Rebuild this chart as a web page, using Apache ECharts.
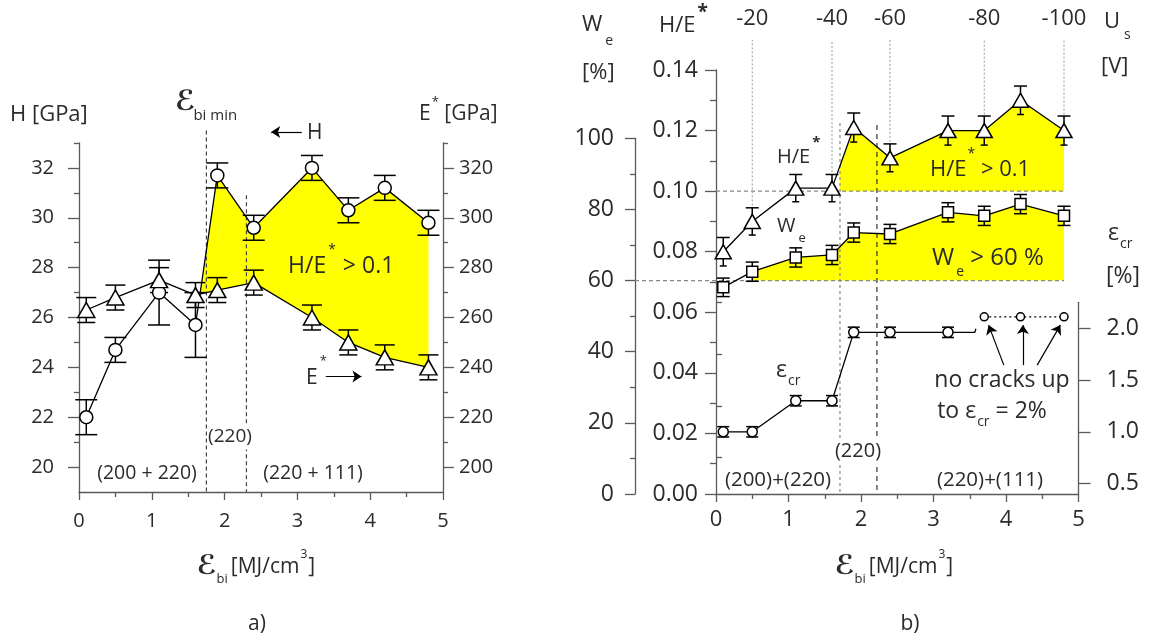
<!DOCTYPE html>
<html><head><meta charset="utf-8">
<script src="https://cdn.jsdelivr.net/npm/echarts@6/dist/echarts.min.js"></script>
<style>html,body{margin:0;padding:0;background:#fff}#c{width:1154px;height:643px}</style>
</head><body><div id="c"></div>
<script>
// ---------------- DATA ----------------
const xVals = [0.1, 0.5, 1.1, 1.6, 1.9, 2.4, 3.2, 3.7, 4.2, 4.8];
// panel a
const hardness = [22.0, 24.7, 27.0, 25.7, 31.7, 29.6, 32.0, 30.3, 31.2, 29.8];
const hardnessErr = [0.7, 0.5, 1.3, 1.3, 0.5, 0.5, 0.5, 0.5, 0.5, 0.5];
const modulus = [263, 268, 275, 269, 271, 274, 260, 250, 244, 240];
const modulusErr = [5, 5, 5, 5, 5, 5, 5, 5, 5, 5];
// panel b
const ratioHE = [0.080, 0.090, 0.101, 0.101, 0.121, 0.111, 0.120, 0.120, 0.130, 0.120];
const ratioHEErr = [0.0047, 0.0045, 0.0045, 0.0045, 0.0048, 0.0046, 0.0048, 0.0048, 0.0047, 0.0048];
const elasticRecovery = [58.1, 62.5, 66.5, 67.2, 73.5, 73.1, 79.2, 78.2, 81.5, 78.2];
const elasticRecoveryErr = [2.6, 2.7, 2.7, 2.7, 2.7, 2.7, 2.7, 2.7, 2.7, 2.7];
const crackX = [0.1, 0.5, 1.1, 1.6, 1.9, 2.4, 3.2];
const crackStrain = [1.0, 1.0, 1.3, 1.3, 1.96, 1.96, 1.96];
const crackErr = [0.05, 0.05, 0.05, 0.05, 0.05, 0.05, 0.05];
const crackTail = [[3.2, 1.96], [3.57, 1.96], [3.585, 1.995]];
const noCrackX = [3.7, 4.2, 4.8];
const noCrackStrain = [2.11, 2.11, 2.11];
// bias voltage (top scale of panel b)
const usX = [0.5, 1.6, 2.4, 3.7, 4.8];
const usLabels = ['-20', '-40', '-60', '-80', '-100'];
const usTop = 0.15;
// phase boundaries
const phaseA = [1.75, 2.3];
const phaseATop = [33.5, 30.9];
const phaseB = [1.71, 2.22];
const phaseBTop = [0.1225, 0.1218];
// thresholds
const HE_TH = 0.10, WE_TH = 60;
// annotation arrows [x1, y1, x2, y2]
const arrowsA = [[3.06, 33.44, 2.64, 33.44], [3.39, 23.63, 3.88, 23.63]];
const arrowsB = [[3.97, 1.644, 3.76, 2.03], [4.233, 1.644, 4.233, 2.03], [4.43, 1.644, 4.75, 2.03]];
// axis ticks
const xTicks = [0, 1, 2, 3, 4, 5];
const hTicks = [20, 22, 24, 26, 28, 30, 32];
const hMinor = [21, 23, 25, 27, 29, 31, 33];
const eTicks = [200, 220, 240, 260, 280, 300, 320];
const eMinor = [210, 230, 250, 270, 290, 310, 330];
const ecrTicks = [0.5, 1.0, 1.5, 2.0];
const ecrMinor = [0.75, 1.25, 1.75, 2.25];
const H_RANGE = [19, 33], E_RANGE = [190, 330], HE_RANGE = [0, 0.14], WE_RANGE = [0, 100], ECR_RANGE = [0.4, 2.25];

// ---------------- LAYOUT / STYLE ----------------
const FAM = '"Open Sans", "DejaVu Sans", sans-serif';
const TXT = '#2b2b2b', AX = '#5a5a5a', YEL = '#ffff00';
const GA = {left: 79, top: 143, width: 364, height: 349};
const GB = {left: 716, top: 70, width: 362.5, height: 424};
const WE_AXIS_X = 635, WE_TOP = 138.3, ECR_TOP = 302.3;
const GB2 = {left: WE_AXIS_X, top: WE_TOP, width: GB.left + GB.width - WE_AXIS_X, height: GB.top + GB.height - WE_TOP};
const GB3 = {left: GB.left, top: ECR_TOP, width: GB.width, height: GB.top + GB.height - ECR_TOP};
const X_MIN = xTicks[0], X_MAX = xTicks[xTicks.length - 1];
const xMinB2 = X_MIN - (GB.left - WE_AXIS_X) * (X_MAX - X_MIN) / GB.width;

const chart = echarts.init(document.getElementById('c'), null, {renderer: 'canvas'});

const axLine = {show: true, onZero: false, lineStyle: {color: AX, width: 1.3}};
const tickStyle = {color: AX, width: 1.3};

function xAx(grid, fs, margin) {
  return {gridIndex: grid, type: 'value', min: X_MIN, max: X_MAX, interval: 1,
    axisLine: axLine, axisTick: {show: true, length: 8, lineStyle: tickStyle},
    minorTick: {show: true, splitNumber: 2, length: 5, lineStyle: tickStyle},
    axisLabel: {fontSize: fs, color: TXT, margin: margin, fontFamily: FAM},
    splitLine: {show: false}, minorSplitLine: {show: false}};
}
function customAx(grid, pos, range, ticks, len, label) {
  const a = {gridIndex: grid, type: 'value', position: pos, min: range[0], max: range[1],
    axisLine: label ? axLine : {show: false},
    axisTick: {show: true, length: len, customValues: ticks, lineStyle: tickStyle},
    splitLine: {show: false}};
  a.axisLabel = label ? Object.assign({customValues: ticks, color: TXT, fontFamily: FAM}, label) : {show: false};
  return a;
}

// ---------------- RENDER HELPERS ----------------
function errRender(capT, capB) {
  return function (params, api) {
    const x = api.value(0), y = api.value(1), e = api.value(2);
    const t = api.coord([x, y + e]), b = api.coord([x, y - e]);
    const st = {stroke: '#000', lineWidth: 1.5};
    return {type: 'group', children: [
      {type: 'line', shape: {x1: t[0], y1: t[1], x2: b[0], y2: b[1]}, style: st},
      {type: 'line', shape: {x1: t[0] - capT, y1: t[1], x2: t[0] + capT, y2: t[1]}, style: st},
      {type: 'line', shape: {x1: b[0] - capB, y1: b[1], x2: b[0] + capB, y2: b[1]}, style: st}
    ]};
  };
}
function errSeries(xi, yi, xs, ys, es, capT, capB) {
  return {type: 'custom', xAxisIndex: xi, yAxisIndex: yi, z: 4, silent: true,
    data: xs.map((x, i) => [x, ys[i], es[i]]), renderItem: errRender(capT, capB)};
}
function vlineSeries(xi, yi, data, styleFn) {
  return {type: 'custom', xAxisIndex: xi, yAxisIndex: yi, z: 3, silent: true, clip: false,
    data: data, renderItem: (p, api) => {
      const a = api.coord([api.value(0), api.value(1)]), b = api.coord([api.value(0), api.value(2)]);
      return {type: 'line', shape: {x1: a[0], y1: a[1], x2: b[0], y2: b[1]}, style: styleFn(p.dataIndex)};
    }};
}
function polySeries(xi, yi, ptsFn) {
  return {type: 'custom', xAxisIndex: xi, yAxisIndex: yi, z: 1, silent: true, clip: false,
    data: [[X_MIN, 0]], renderItem: (p, api) => ({type: 'polygon',
      shape: {points: ptsFn().map(q => api.coord(q))}, style: {fill: YEL}})};
}
function lineSeries(xi, yi, xs, ys, sym, size, dash) {
  return {type: 'line', xAxisIndex: xi, yAxisIndex: yi, z: 5, silent: true, showAllSymbol: true,
    data: xs.map((x, i) => [x, ys[i]]), symbol: sym, symbolSize: size,
    itemStyle: {color: '#fff', borderColor: '#000', borderWidth: 1.5},
    lineStyle: {color: '#000', width: 1.3, type: dash || 'solid'}, animation: false};
}
function arrowSeries(xi, yi, arr) {
  return {type: 'lines', coordinateSystem: 'cartesian2d', xAxisIndex: xi, yAxisIndex: yi, z: 6,
    silent: true, clip: false, symbol: ['none', 'arrow'], symbolSize: [0, 9],
    itemStyle: {color: '#000'}, lineStyle: {color: '#000', width: 1.2, opacity: 1},
    data: arr.map(a => ({coords: [[a[0], a[1]], [a[2], a[3]]]}))};
}

// fill polygons, derived from the data
const eToH = e => H_RANGE[0] + (e - E_RANGE[0]) * (H_RANGE[1] - H_RANGE[0]) / (E_RANGE[1] - E_RANGE[0]);
function fillPolyA() {
  const d = xVals.map((x, i) => hardness[i] - eToH(modulus[i]));
  const k = d.findIndex((v, i) => i > 0 && d[i - 1] <= 0 && v > 0);
  const t = -d[k - 1] / (d[k] - d[k - 1]);
  const up = [[xVals[k - 1] + t * (xVals[k] - xVals[k - 1]), hardness[k - 1] + t * (hardness[k] - hardness[k - 1])]];
  const low = [];
  for (let i = k; i < xVals.length; i++) { up.push([xVals[i], hardness[i]]); low.push([xVals[i], eToH(modulus[i])]); }
  return up.concat(low.reverse());
}
function fillPolyHE() {
  const x0 = phaseB[0];
  const k = xVals.findIndex(x => x > x0);
  const t = (x0 - xVals[k - 1]) / (xVals[k] - xVals[k - 1]);
  const pts = [[x0, ratioHE[k - 1] + t * (ratioHE[k] - ratioHE[k - 1])]];
  for (let i = k; i < xVals.length; i++) pts.push([xVals[i], ratioHE[i]]);
  pts.push([xVals[xVals.length - 1], HE_TH], [x0, HE_TH]);
  return pts;
}
function fillPolyWe() {
  const k = elasticRecovery.findIndex(v => v > WE_TH);
  const pts = [];
  for (let i = k; i < xVals.length; i++) pts.push([xVals[i], elasticRecovery[i]]);
  pts.push([xVals[xVals.length - 1], WE_TH], [xVals[k], WE_TH]);
  return pts;
}

// ---------------- TEXT HELPERS ----------------
const mctx = document.createElement('canvas').getContext('2d');
function fontOf(p) { return (p.i ? 'italic ' : '') + (p.b ? 'bold ' : '') + p.s + 'px ' + (p.f || FAM); }
function seq(x, y, parts, center, bg) {
  let total = 0;
  parts.forEach(p => { mctx.font = fontOf(p); total += mctx.measureText(p.t).width + (p.dx || 0) + (p.gap || 0); });
  let cx = center ? x - total / 2 : x;
  return parts.map(p => {
    const f = fontOf(p);
    mctx.font = f;
    const el = {type: 'text', x: cx + (p.dx || 0), y: y + (p.dy || 0), z: 100, silent: true,
      style: {text: p.t, font: f, fill: p.c || TXT, align: 'left', textAlign: 'left',
        verticalAlign: 'middle', textVerticalAlign: 'middle'}};
    if (bg) { el.style.backgroundColor = '#fff'; el.style.padding = [3, 1]; }
    cx += mctx.measureText(p.t).width + (p.dx || 0) + (p.gap || 0);
    return el;
  });
}
const EPS_F = '"DejaVu Sans", sans-serif';
const texts = [].concat(
  // panel a
  seq(10, 115, [{t: 'H [GPa]', s: 22}]),
  seq(175, 103, [{t: 'ℰ', s: 28, b: 1, i: 1, f: EPS_F}, {t: 'bi min', s: 15, dy: 13, dx: -2}]),
  seq(307, 133, [{t: 'H', s: 21}]),
  seq(419, 114, [{t: 'E', s: 21}, {t: '*', s: 13, dy: -12, dx: 1}, {t: ' [GPa]', s: 21}]),
  seq(288, 266, [{t: 'H/E', s: 23}, {t: '*', s: 14, dy: -16, dx: 2}, {t: ' > 0.1', s: 23, dx: 1}]),
  seq(306, 378, [{t: 'E', s: 21}, {t: '*', s: 13, dy: -17, dx: 2}]),
  seq(229, 437, [{t: '(220)', s: 19}], true, true),
  seq(147, 473, [{t: '(200 + 220)', s: 19.5}], true),
  seq(313, 473, [{t: '(220 + 111)', s: 19.5}], true),
  seq(256, 567, [{t: 'ℰ', s: 27, b: 1, i: 1, f: EPS_F}, {t: 'bi', s: 13, dy: 12, gap: 3}, {t: '[MJ/cm', s: 21}, {t: '3', s: 12, dy: -12, dx: 1}, {t: ']', s: 21, dx: 1}], true),
  seq(257, 624, [{t: 'a)', s: 21}], true),
  // panel b
  seq(582, 25, [{t: 'W', s: 22}, {t: 'e', s: 14, dy: 16, dx: 3}]),
  seq(582, 73, [{t: '[%]', s: 22}]),
  seq(659, 26, [{t: 'H/E', s: 22}, {t: '*', s: 19, b: 1, dy: -13, dx: 2}]),
  seq(1104, 22, [{t: 'U', s: 22}, {t: 's', s: 14, dy: 13, dx: 4}]),
  seq(1101, 67, [{t: '[V]', s: 22}]),
  seq(777, 157, [{t: 'H/E', s: 20}, {t: '*', s: 15, b: 1, dy: -14, dx: 2}]),
  seq(777, 226, [{t: 'W', s: 20}, {t: 'e', s: 13, dy: 12, dx: 3}]),
  seq(930, 170, [{t: 'H/E', s: 22}, {t: '*', s: 14, dy: -16, dx: 1}, {t: ' > 0.1', s: 22, dx: 0}]),
  seq(932, 258, [{t: 'W', s: 24}, {t: 'e', s: 14, dy: 14, dx: 2}, {t: ' > 60 %', s: 24}]),
  seq(776, 370, [{t: 'ε', s: 23}, {t: 'cr', s: 14, dy: 11, dx: 1}]),
  seq(1002, 380, [{t: 'no cracks up', s: 23}], true),
  seq(992, 411, [{t: 'to ε', s: 23}, {t: 'cr', s: 14, dy: 11, dx: 1}, {t: ' = 2%', s: 23}], true),
  seq(1108, 233, [{t: 'ε', s: 23}, {t: 'cr', s: 14, dy: 11, dx: 1}]),
  seq(1106, 276, [{t: '[%]', s: 23}]),
  seq(857, 451, [{t: '(220)', s: 20}], true, true),
  seq(778, 480, [{t: '(200)+(220)', s: 20.5}], true),
  seq(990, 480, [{t: '(220)+(111)', s: 20.5}], true),
  seq(894, 567, [{t: 'ℰ', s: 27, b: 1, i: 1, f: EPS_F}, {t: 'bi', s: 13, dy: 12, gap: 3}, {t: '[MJ/cm', s: 21}, {t: '3', s: 12, dy: -12, dx: 1}, {t: ']', s: 21, dx: 1}], true),
  seq(910, 624, [{t: 'b)', s: 21}], true)
);

const lastX = xVals[xVals.length - 1];
const option = {
  animation: false,
  backgroundColor: '#fff',
  textStyle: {fontFamily: FAM},
  grid: [GA, GB, GB2, GB3].map(g => Object.assign({outerBoundsMode: 'none', containLabel: false}, g)),
  xAxis: [
    xAx(0, 20, 19),
    xAx(1, 22, 15),
    {gridIndex: 1, type: 'value', position: 'top', min: X_MIN, max: X_MAX,
      axisLine: {show: false}, axisTick: {show: false}, splitLine: {show: false},
      axisLabel: {customValues: usX, fontSize: 22, color: TXT, margin: 40, fontFamily: FAM,
        formatter: v => { const i = usX.findIndex(u => Math.abs(u - v) < 1e-6); return i >= 0 ? usLabels[i] : ''; }}},
    {gridIndex: 2, type: 'value', min: xMinB2, max: X_MAX, show: false},
    {gridIndex: 3, type: 'value', min: X_MIN, max: X_MAX, show: false}
  ],
  yAxis: [
    customAx(0, 'left', H_RANGE, hTicks, 11, {fontSize: 20, margin: 25}),
    customAx(0, 'right', E_RANGE, eTicks, 11, {fontSize: 20, margin: 16}),
    customAx(0, 'left', H_RANGE, hMinor, 5, null),
    customAx(0, 'right', E_RANGE, eMinor, 5, null),
    {gridIndex: 1, type: 'value', position: 'left', min: HE_RANGE[0], max: HE_RANGE[1], interval: 0.02,
      axisLine: axLine, axisTick: {show: true, length: 11, lineStyle: tickStyle},
      minorTick: {show: true, splitNumber: 2, length: 6, lineStyle: tickStyle},
      axisLabel: {fontSize: 23, color: TXT, margin: 18, fontFamily: FAM, formatter: v => v.toFixed(2)},
      splitLine: {show: false}, minorSplitLine: {show: false}},
    {gridIndex: 2, type: 'value', position: 'left', min: WE_RANGE[0], max: WE_RANGE[1], interval: 20,
      axisLine: axLine, axisTick: {show: true, length: 10, lineStyle: tickStyle},
      minorTick: {show: true, splitNumber: 2, length: 5, lineStyle: tickStyle},
      axisLabel: {fontSize: 23, color: TXT, margin: 21, fontFamily: FAM},
      splitLine: {show: false}, minorSplitLine: {show: false}},
    customAx(3, 'right', ECR_RANGE, ecrTicks, 12, {fontSize: 23, margin: 28, formatter: v => v.toFixed(1)}),
    customAx(3, 'right', ECR_RANGE, ecrMinor, 6, null)
  ],
  series: [
    // ----- panel a -----
    polySeries(0, 0, fillPolyA),
    vlineSeries(0, 0, phaseA.map((x, i) => [x, phaseATop[i], H_RANGE[0]]),
      () => ({stroke: '#444', lineWidth: 1.2, lineDash: [4, 3]})),
    errSeries(0, 0, xVals, hardness, hardnessErr, 11, 11),
    errSeries(0, 1, xVals, modulus, modulusErr, 10, 9),
    lineSeries(0, 0, xVals, hardness, 'circle', 13),
    lineSeries(0, 1, xVals, modulus, 'triangle', [17, 15]),
    arrowSeries(0, 0, arrowsA),
    // ----- panel b -----
    polySeries(1, 4, fillPolyHE),
    polySeries(3, 5, fillPolyWe),
    {type: 'line', xAxisIndex: 1, yAxisIndex: 4, z: 3, silent: true, symbol: 'none',
      data: [[X_MIN, HE_TH], [lastX, HE_TH]], lineStyle: {color: '#888', width: 1.2, type: [4, 3]}},
    {type: 'line', xAxisIndex: 3, yAxisIndex: 5, z: 3, silent: true, symbol: 'none',
      data: [[xMinB2, WE_TH], [lastX, WE_TH]], lineStyle: {color: '#888', width: 1.2, type: [4, 3]}},
    vlineSeries(1, 4, usX.map(x => [x, ratioHE[xVals.findIndex(v => Math.abs(v - x) < 1e-6)], usTop]),
      () => ({stroke: '#999', lineWidth: 1, lineDash: [2, 2]})),
    vlineSeries(1, 4, phaseB.map((x, i) => [x, phaseBTop[i], HE_RANGE[0]]),
      i => i === 0 ? {stroke: '#888', lineWidth: 1.2, lineDash: [3, 3]} : {stroke: '#222', lineWidth: 1.1, lineDash: [5, 4]}),
    errSeries(1, 4, xVals, ratioHE, ratioHEErr, 6.5, 3.5),
    errSeries(3, 5, xVals, elasticRecovery, elasticRecoveryErr, 6.5, 6.5),
    errSeries(4, 6, crackX, crackStrain, crackErr, 6, 6),
    lineSeries(1, 4, xVals, ratioHE, 'triangle', [16, 14]),
    lineSeries(3, 5, xVals, elasticRecovery, 'rect', 11),
    {type: 'line', xAxisIndex: 4, yAxisIndex: 6, z: 5, silent: true, symbol: 'none',
      data: crackTail, lineStyle: {color: '#000', width: 1.3}},
    lineSeries(4, 6, crackX, crackStrain, 'circle', 10),
    lineSeries(4, 6, noCrackX, noCrackStrain, 'circle', 8, [2, 3]),
    arrowSeries(4, 6, arrowsB)
  ],
  graphic: {elements: texts}
};
chart.setOption(option);
</script></body></html>
